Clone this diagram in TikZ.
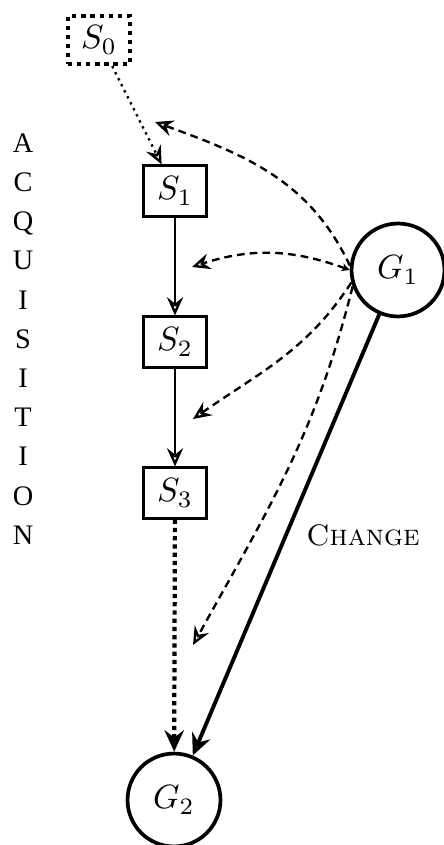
\documentclass[tikz,border=0pt]{standalone}
\usepackage{fontspec}
\newfontfamily\acqfont{Liberation Serif}
\usetikzlibrary{arrows.meta}
\tikzset{
  sbox/.style={draw, line width=0.7pt, minimum width=18.7pt, minimum height=15.1pt, inner sep=0pt},
  s0box/.style={draw, line width=1.25pt, dash pattern=on 1.25pt off 1.45pt, minimum width=18.4pt, minimum height=14.3pt, inner sep=0pt},
  gnode/.style={draw, circle, line width=1.1pt, minimum size=27.6pt, inner sep=0pt},
  thintip/.style={-{Stealth[open, length=5.4pt, width=4.8pt, inset=1.9pt]}},
  bigtip/.style={-{Stealth[open, length=6.4pt, width=5.8pt, inset=2.2pt]}},
  solidarrow/.style={thintip, line width=0.7pt},
  dotarrow/.style={thintip, line width=0.7pt, dash pattern=on 0.7pt off 1.3pt},
  thickdot/.style={bigtip, line width=1.25pt, dash pattern=on 1.25pt off 1.2pt},
  thickarrow/.style={bigtip, line width=1.15pt},
  dasharrow/.style={thintip, line width=0.7pt, dash pattern=on 2.3pt off 1.5pt},
}
\begin{document}
\begin{tikzpicture}[x=0.297pt,y=-0.297pt]
\useasboundingbox (0,0) rectangle (443,845);
% nodes
\node[s0box] (S0) at (99,40) {$S_0$};
\node[sbox] (S1) at (175,191) {$S_1$};
\node[sbox] (S2) at (175,342) {$S_2$};
\node[sbox] (S3) at (175,493) {$S_3$};
\node[gnode] (G1) at (398,270) {$G_1$};
\node[gnode] (G2) at (174,800) {$G_2$};
% labels
\node[font=\fontsize{8.4}{11.64}\acqfont, align=center, inner sep=0pt] (acq) at (23,339)
  {A\\C\\Q\\U\\I\\S\\I\\T\\I\\O\\N};
\node[font=\fontsize{8.8}{10}\selectfont, inner sep=0pt] (chg) at (363,535) {\textsc{Change}};
% free ends of dashed arrows
\coordinate (c1) at (155,122);
\coordinate (c2) at (192,267);
\coordinate (c3) at (193,419);
\coordinate (c4) at (193,645);
% connectors
\draw[dotarrow] (S0) -- (S1);
\draw[solidarrow] (S1) -- (S2);
\draw[solidarrow] (S2) -- (S3);
\draw[thickdot] (S3) -- (G2);
\draw[thickarrow] (G1) -- (G2);
\draw[dasharrow] (G1.175) to[out=115, in=-20] (c1);
\draw[dasharrow, {Stealth[open, length=2.4pt, width=2.4pt]}-{Stealth[open, length=5.4pt, width=4.8pt, inset=1.9pt]}] (G1.west) to[out=160, in=18] (c2);
\draw[dasharrow] (G1.195) to[out=237, in=35] (c3);
\draw[dasharrow] (G1.200) to[out=256, in=61] (c4);
\end{tikzpicture}
\end{document}
